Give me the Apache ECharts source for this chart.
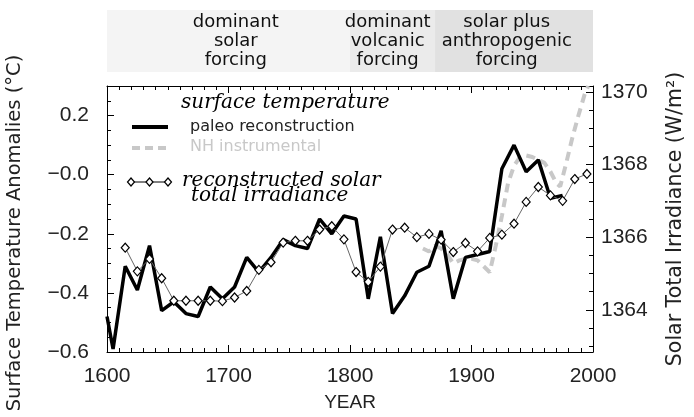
<!DOCTYPE html>
<html>
<head>
<meta charset="utf-8">
<script src="https://cdn.jsdelivr.net/npm/echarts@6/dist/echarts.min.js"></script>
<style>
  html, body { margin: 0; padding: 0; background: #fff; }
  #chart { width: 694px; height: 417px; }
</style>
</head>
<body>
<div id="chart"></div>
<script>
// paleo reconstruction (left axis, deg C)
const paleoYears = [1600, 1605, 1615, 1625, 1635, 1645, 1655, 1665, 1675, 1685, 1695, 1705, 1715, 1725, 1735,
  1745, 1755, 1765, 1775, 1785, 1795, 1805, 1815, 1825, 1835, 1845, 1855, 1865, 1875, 1885, 1895, 1905, 1915,
  1925, 1935, 1945, 1955, 1965, 1975];
const paleoValues = [-0.48, -0.59, -0.31, -0.39, -0.24, -0.46, -0.43, -0.47, -0.48, -0.38, -0.42, -0.38, -0.28, -0.33, -0.28,
  -0.22, -0.24, -0.25, -0.15, -0.20, -0.14, -0.15, -0.42, -0.21, -0.47, -0.41, -0.33, -0.31, -0.19, -0.42, -0.28, -0.27, -0.26,
  0.02, 0.10, 0.01, 0.05, -0.08, -0.07];

// NH instrumental (left axis, deg C)
const nhYears = [1860, 1865, 1870, 1875, 1880, 1885, 1890, 1895, 1900, 1905, 1910, 1915, 1920, 1925, 1930, 1935,
  1940, 1945, 1950, 1955, 1960, 1965, 1970, 1973, 1978, 1983, 1988, 1993, 1996];
const nhValues = [-0.25, -0.26, -0.24, -0.25, -0.27, -0.30, -0.29, -0.285, -0.285, -0.29, -0.31, -0.33, -0.24, -0.14, -0.03, 0.03,
  0.06, 0.065, 0.06, 0.05, 0.04, 0.01, -0.03, -0.04, 0.04, 0.125, 0.20, 0.27, 0.30];

// reconstructed solar total irradiance (right axis, W/m2)
const solarYears = [1615, 1625, 1635, 1645, 1655, 1665, 1675, 1685, 1695, 1705, 1715, 1725, 1735, 1745, 1755, 1765,
  1775, 1785, 1795, 1805, 1815, 1825, 1835, 1845, 1855, 1865, 1875, 1885, 1895, 1905, 1915, 1925, 1935, 1945,
  1955, 1965, 1975, 1985, 1995];
const solarValues = [1365.71, 1365.06, 1365.40, 1364.87, 1364.25, 1364.25, 1364.25, 1364.25, 1364.24, 1364.34, 1364.52,
  1365.10, 1365.31, 1365.85, 1365.90, 1365.90, 1366.21, 1366.30, 1365.94, 1365.04, 1364.77, 1365.19, 1366.21, 1366.26,
  1366.00, 1366.09, 1365.93, 1365.59, 1365.84, 1365.61, 1365.98, 1366.07, 1366.37, 1366.97, 1367.38, 1367.15, 1367.00,
  1367.60, 1367.74];

const rightMajorTicks = [1364, 1366, 1368, 1370];
const rightMinorTicks = [1363, 1363.5, 1364.5, 1365, 1365.5, 1366.5, 1367, 1367.5, 1368.5, 1369, 1369.5];

// forcing periods shown in the banner
const periodBounds = [1600, 1800, 1870, 2000];
const periodColors = ["#f4f4f4", "#ebebeb", "#e1e1e1"];
const periodLabels = ["dominant\nsolar\nforcing", "dominant\nvolcanic\nforcing", "solar plus\nanthropogenic\nforcing"];
const periodLabelYears = [1706, 1831, 1929];

const pairs = (xs, ys) => xs.map((x, i) => [x, ys[i]]);

const tickFont = { fontFamily: "Liberation Sans", fontSize: 21, color: "#222" };
const sansFont = "DejaVu Sans";

let myChart = echarts.init(document.getElementById("chart"));

myChart.setOption({
  animation: false,
  backgroundColor: "#fff",
  grid: { left: 107, right: 97, top: 86, bottom: 61 },
  xAxis: [
    {
      type: "value", min: 1600, max: 2000, interval: 100, position: "bottom",
      axisLine: { onZero: false, lineStyle: { color: "#000", width: 1 } },
      axisTick: { inside: true, length: 7, lineStyle: { color: "#000" } },
      minorTick: { show: true, splitNumber: 10, length: 4, lineStyle: { color: "#000" } },
      splitLine: { show: false },
      axisLabel: Object.assign({ margin: 14, formatter: (v) => String(v) }, tickFont),
      name: "YEAR", nameLocation: "middle", nameGap: 41,
      nameTextStyle: { fontFamily: "Liberation Sans", fontSize: 19, color: "#222" },
    },
    {
      type: "value", min: 1600, max: 2000, interval: 100, position: "top",
      axisLine: { onZero: false, lineStyle: { color: "#000", width: 1 } },
      axisTick: { inside: true, length: 7, lineStyle: { color: "#000" } },
      minorTick: { show: true, splitNumber: 10, length: 4, lineStyle: { color: "#000" } },
      splitLine: { show: false },
      axisLabel: { show: false },
    },
  ],
  yAxis: [
    {
      type: "value", min: -0.6, max: 0.3, interval: 0.2, position: "left",
      axisLine: { show: true, onZero: false, lineStyle: { color: "#000", width: 1 } },
      axisTick: { show: true, inside: true, length: 7, lineStyle: { color: "#000" } },
      minorTick: { show: true, splitNumber: 4, length: 4, lineStyle: { color: "#000" } },
      splitLine: { show: false },
      axisLabel: Object.assign({
        margin: 18, showMaxLabel: false,
        formatter: function (v) {
          return v > 0.05 ? v.toFixed(1) : "\u2212" + Math.abs(v).toFixed(1);
        },
      }, tickFont),
    },
    {
      type: "value", min: 1362.84, max: 1370.16, position: "right",
      axisLine: { show: true, onZero: false, lineStyle: { color: "#000", width: 1 } },
      axisTick: { show: true, inside: true, length: 7, customValues: rightMajorTicks, lineStyle: { color: "#000" } },
      splitLine: { show: false },
      axisLabel: Object.assign({ margin: 8, customValues: rightMajorTicks, formatter: (v) => String(v) }, tickFont),
      name: "Solar Total Irradiance (W/m\u00b2)", nameLocation: "middle", nameRotate: 90, nameGap: 72,
      nameTextStyle: { fontFamily: sansFont, fontSize: 20.5, color: "#222" },
    },
    {
      type: "value", min: 1362.84, max: 1370.16, position: "right",
      axisLine: { show: false, onZero: false },
      axisTick: { show: true, inside: true, length: 4, customValues: rightMinorTicks, lineStyle: { color: "#000" } },
      splitLine: { show: false },
      axisLabel: { show: false },
    },
  ],
  series: [
    {
      name: "NH instrumental", type: "line", xAxisIndex: 0, yAxisIndex: 0, z: 2,
      data: pairs(nhYears, nhValues), showSymbol: false,
      lineStyle: { color: "#c8c8c8", width: 4, type: [9, 6] },
    },
    {
      name: "paleo reconstruction", type: "line", xAxisIndex: 0, yAxisIndex: 0, z: 3,
      data: pairs(paleoYears, paleoValues), showSymbol: false,
      lineStyle: { color: "#000", width: 3.5 },
    },
    {
      name: "reconstructed solar total irradiance", type: "line", xAxisIndex: 0, yAxisIndex: 1, z: 4,
      data: pairs(solarYears, solarValues), symbol: "diamond", symbolSize: [8, 9],
      itemStyle: { color: "#fff", borderColor: "#000", borderWidth: 1.2 },
      lineStyle: { color: "#666", width: 1 },
    },
  ],
});

// banner + legend, placed with the chart's own x scale
let px = function (year) {
  return myChart.convertToPixel({ xAxisIndex: 0 }, year);
};

let graphics = [];
for (let i = 0; i < periodColors.length; i++) {
  graphics.push({
    type: "rect", z: 0,
    shape: { x: px(periodBounds[i]), y: 10, width: px(periodBounds[i + 1]) - px(periodBounds[i]), height: 62 },
    style: { fill: periodColors[i] },
  });
  graphics.push({
    type: "text", z: 1, x: px(periodLabelYears[i]), y: 41,
    style: {
      text: periodLabels[i], fill: "#111", font: "18px " + sansFont,
      align: "center", verticalAlign: "middle", lineHeight: 19,
    },
  });
}

// left axis title
graphics.push({
  type: "text", x: 15, y: 233, rotation: Math.PI / 2,
  style: {
    text: "Surface Temperature Anomalies (\u00b0C)", fill: "#222", font: "19.5px " + sansFont,
    align: "center", verticalAlign: "middle",
  },
});

// legend
const serifItalic = "italic 20px 'DejaVu Serif'";
graphics.push(
  { type: "text", z: 10, x: 181, y: 103, style: { text: "surface temperature", font: serifItalic, fill: "#000", verticalAlign: "middle" } },
  { type: "line", z: 10, shape: { x1: 132, y1: 127, x2: 168, y2: 127 }, style: { stroke: "#000", lineWidth: 4 } },
  { type: "text", z: 10, x: 190, y: 127, style: { text: "paleo reconstruction", font: "16px " + sansFont, fill: "#222", verticalAlign: "middle" } },
  { type: "line", z: 10, shape: { x1: 132, y1: 148, x2: 168, y2: 148 }, style: { stroke: "#c8c8c8", lineWidth: 4, lineDash: [8, 5] } },
  { type: "text", z: 10, x: 190, y: 147, style: { text: "NH instrumental", font: "16px " + sansFont, fill: "#c8c8c8", verticalAlign: "middle" } },
  { type: "line", z: 10, shape: { x1: 131, y1: 182, x2: 168, y2: 182 }, style: { stroke: "#000", lineWidth: 1 } },
  { type: "text", z: 10, x: 182, y: 181, style: { text: "reconstructed solar", font: serifItalic, fill: "#000", verticalAlign: "middle" } },
  { type: "text", z: 10, x: 191, y: 196, style: { text: "total irradiance", font: serifItalic, fill: "#000", verticalAlign: "middle" } }
);
[131, 149.5, 168].forEach(function (cx) {
  graphics.push({
    type: "polygon", z: 11,
    shape: { points: [[cx, 178], [cx + 3.5, 182], [cx, 186], [cx - 3.5, 182]] },
    style: { fill: "#fff", stroke: "#000", lineWidth: 1.2 },
  });
});

myChart.setOption({ graphic: graphics });
</script>
</body>
</html>
